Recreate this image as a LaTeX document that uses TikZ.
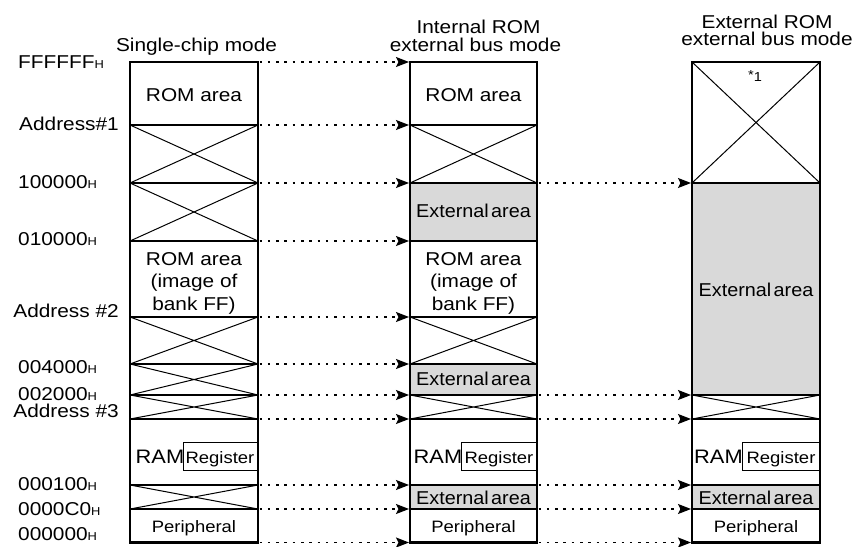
\documentclass[tikz,border=0pt]{standalone}
\usepackage{fontspec}
\setmainfont{Liberation Sans}[FakeStretch=1.12]
\usepackage{graphicx}
\usetikzlibrary{arrows.meta}
\definecolor{areagray}{RGB}{217,217,217}
\newcommand{\Hsub}{{\fontsize{11.5}{12}\selectfont H}}
\newcommand{\ExtA}{\scalebox{0.95}[1]{External\hspace{2.5pt}area}}
\tikzset{
  outerbox/.style={line width=2.6pt},
  divline/.style={line width=1.5pt},
  xline/.style={line width=1pt},
  regline/.style={line width=1pt},
  arr/.style={line width=1.2pt, dash pattern=on 2.5pt off 5.8pt,
    -{Stealth[length=13pt,width=10pt,inset=2.5pt]}},
  txt/.style={inner sep=0pt, anchor=base, font=\fontsize{18.6}{20}\selectfont},
  lblw/.style={txt, anchor=base west},
  lble/.style={txt, anchor=base east},
  ram/.style={inner sep=0pt, anchor=base west, font=\fontsize{19.5}{20}\selectfont},
  small/.style={inner sep=0pt, anchor=base, font=\fontsize{16.5}{18}\selectfont},
}
\begin{document}
\begin{tikzpicture}[x=1pt,y=-1pt]
\useasboundingbox (0,0) rectangle (858,546);
% shaded areas
\fill[areagray] (410,183) rectangle (537,241);
\fill[areagray] (410,364) rectangle (537,395);
\fill[areagray] (410,485) rectangle (537,509);
\fill[areagray] (692,183) rectangle (820,395);
\fill[areagray] (692,485) rectangle (820,509);
% crossed (unused) areas
\foreach \t/\b in {125/183,183/241,317/364,364/395,395/419,485/509}
  \draw[xline] (130,\t) -- (258,\b) (130,\b) -- (258,\t);
\foreach \t/\b in {125/183,317/364,395/419}
  \draw[xline] (410,\t) -- (537,\b) (410,\b) -- (537,\t);
\foreach \t/\b in {62/183,395/419}
  \draw[xline] (692,\t) -- (820,\b) (692,\b) -- (820,\t);
% dividing lines
\foreach \y in {125,183,241,317,364,395,419,485,509} {
  \draw[divline] (130,\y) -- (258,\y);
  \draw[divline] (410,\y) -- (537,\y);
}
\foreach \y in {183,395,419,485,509}
  \draw[divline] (692,\y) -- (820,\y);
% register boxes
\draw[regline] (183,442.5) rectangle (258,470.5);
\draw[regline] (461,442.5) rectangle (537,470.5);
\draw[regline] (742,442.5) rectangle (820,470.5);
% outer boxes
\draw[outerbox] (130,62) rectangle (258,542.5);
\draw[outerbox] (410,62) rectangle (537,542.5);
\draw[outerbox] (692,62) rectangle (820,542.5);
% titles
\node[txt] (t1) at (196.5,51) {Single-chip mode};
\node[txt] (t2a) at (478.5,33) {Internal ROM};
\node[txt] (t2b) at (475.5,51) {external bus mode};
\node[txt] (t3a) at (767,28) {External ROM};
\node[txt] (t3b) at (767,45) {external bus mode};
% address labels
\node[lblw] (l0) at (18,68) {FFFFFF\Hsub};
\node[lble] (l1) at (119,130) {Address\#1};
\node[lblw] (l2) at (18,188) {100000\Hsub};
\node[lblw] (l3) at (18,245) {010000\Hsub};
\node[lble] (l4) at (119,317) {Address \#2};
\node[lblw] (l5) at (18,373) {004000\Hsub};
\node[lblw] (l6) at (18,400) {002000\Hsub};
\node[lble] (l7) at (119,417) {Address \#3};
\node[lblw] (l8) at (18,490) {000100\Hsub};
\node[lblw] (l9) at (18,515) {0000C0\Hsub};
\node[lblw] (l10) at (18,540) {000000\Hsub};
% column 1 texts
\node[txt] (r1a) at (194,101) {ROM area};
\node[txt] (r1b) at (194,265) {ROM area};
\node[txt] (r1c) at (194,287.5) {(image of};
\node[txt] (r1d) at (194,310) {bank FF)};
\node[ram] (ram1) at (135.5,463.5) {RAM};
\node[small] (reg1) at (220,463.5) {Register};
\node[small] (per1) at (194,532) {Peripheral};
% column 2 texts
\node[txt] (r2a) at (473.5,101) {ROM area};
\node[txt] (e2a) at (473.5,217) {\ExtA};
\node[txt] (r2b) at (473.5,265) {ROM area};
\node[txt] (r2c) at (473.5,287.5) {(image of};
\node[txt] (r2d) at (473.5,310) {bank FF)};
\node[txt] (e2b) at (473.5,385) {\ExtA};
\node[ram] (ram2) at (413.5,463.5) {RAM};
\node[small] (reg2) at (499,463.5) {Register};
\node[txt] (e2c) at (473.5,504.5) {\ExtA};
\node[small] (per2) at (473.5,532) {Peripheral};
% column 3 texts
\node[inner sep=0pt, anchor=base, font=\fontsize{13}{14}\selectfont] (n1) at (755,81) {\raisebox{2pt}{*}1};
\node[txt] (e3a) at (756,296) {\ExtA};
\node[ram] (ram3) at (694,463.5) {RAM};
\node[small] (reg3) at (781,463.5) {Register};
\node[txt] (e3b) at (756,504.5) {\ExtA};
\node[small] (per3) at (756,532) {Peripheral};
% arrows single-chip -> internal ROM
\foreach \y [count=\i] in {62,125,183,241,317,364,395,419,485,509,542.5} {
  \coordinate (a\i) at (259.5,\y);
  \coordinate (b\i) at (409,\y);
  \draw[arr] (a\i) -- (b\i);
}
% arrows internal ROM -> external ROM
\foreach \y [count=\i] in {183,395,419,485,509,542.5} {
  \coordinate (c\i) at (538.5,\y);
  \coordinate (d\i) at (691,\y);
  \draw[arr] (c\i) -- (d\i);
}
\end{tikzpicture}
\end{document}
